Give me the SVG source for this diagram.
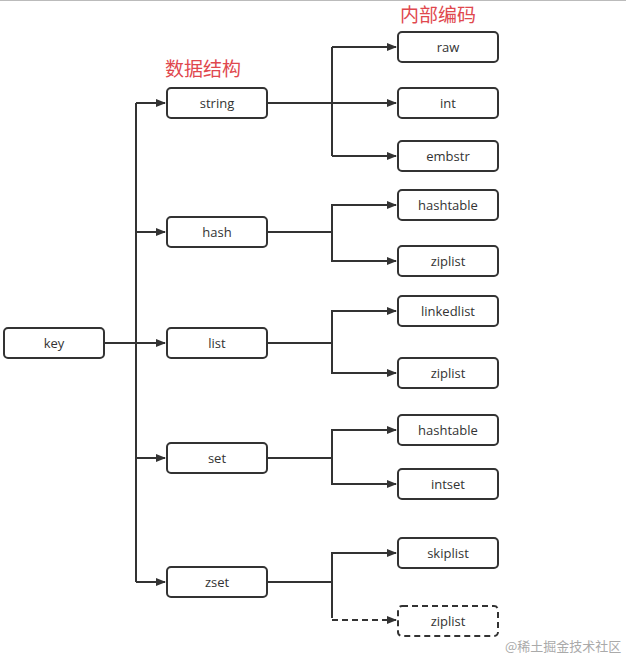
<svg xmlns="http://www.w3.org/2000/svg" width="626" height="656" viewBox="0 0 626 656">
<style>
.n rect{fill:#fff;stroke:#333;stroke-width:2}
.n text,.t{font-family:"Open Sans","Liberation Sans",sans-serif;font-size:13px;fill:#333;text-anchor:middle;dominant-baseline:central}
.c path{fill:none;stroke:#333;stroke-width:2}
.h{font-family:"Noto Sans CJK SC",sans-serif;font-size:19px;fill:#e0484e}
.d rect{stroke-dasharray:6 4}
</style>
<defs><marker id="a" markerWidth="10" markerHeight="8" refX="9" refY="4" orient="auto" markerUnits="userSpaceOnUse"><path d="M0,0L10,4L0,8z" fill="#333"/></marker></defs>
<rect width="626" height="656" fill="#fff"/>
<line x1="0" y1="0.5" x2="626" y2="0.5" stroke="#bbb"/>
<text class="h" x="400" y="22">内部编码</text>
<text class="h" x="165" y="76">数据结构</text>
<g class="c">
<path d="M104,343H136" />
<path d="M136,103V582"/>
<path d="M136,103H165" marker-end="url(#a)"/>
<path d="M136,232H165" marker-end="url(#a)"/>
<path d="M136,343H165" marker-end="url(#a)"/>
<path d="M136,458H165" marker-end="url(#a)"/>
<path d="M136,582H165" marker-end="url(#a)"/>
<path d="M267,103H396" marker-end="url(#a)"/>
<path d="M332,47V156"/>
<path d="M332,47H396" marker-end="url(#a)"/>
<path d="M332,156H396" marker-end="url(#a)"/>
<path d="M267,232H332V205H396" marker-end="url(#a)"/>
<path d="M332,232V261H396" marker-end="url(#a)"/>
<path d="M267,343H332V311H396" marker-end="url(#a)"/>
<path d="M332,343V373H396" marker-end="url(#a)"/>
<path d="M267,458H332V430H396" marker-end="url(#a)"/>
<path d="M332,458V484H396" marker-end="url(#a)"/>
<path d="M267,582H332V553H396" marker-end="url(#a)"/>
<path d="M332,582V618"/>
<path d="M332,620H396" stroke-dasharray="6 4" marker-end="url(#a)"/>
</g>
<g id="key" class="n"><rect x="4" y="328" width="100" height="30" rx="4"/><text x="54" y="343">key</text></g>
<g id="string" class="n"><rect x="167" y="88" width="100" height="30" rx="4"/><text x="217" y="103">string</text></g>
<g id="hash" class="n"><rect x="167" y="217" width="100" height="30" rx="4"/><text x="217" y="232">hash</text></g>
<g id="list" class="n"><rect x="167" y="328" width="100" height="30" rx="4"/><text x="217" y="343">list</text></g>
<g id="set" class="n"><rect x="167" y="443" width="100" height="30" rx="4"/><text x="217" y="458">set</text></g>
<g id="zset" class="n"><rect x="167" y="567" width="100" height="30" rx="4"/><text x="217" y="582">zset</text></g>
<g id="raw" class="n"><rect x="398" y="32" width="100" height="30" rx="4"/><text x="448" y="47">raw</text></g>
<g id="int" class="n"><rect x="398" y="88" width="100" height="30" rx="4"/><text x="448" y="103">int</text></g>
<g id="embstr" class="n"><rect x="398" y="141" width="100" height="30" rx="4"/><text x="448" y="156">embstr</text></g>
<g id="hashtable1" class="n"><rect x="398" y="190" width="100" height="30" rx="4"/><text x="448" y="205">hashtable</text></g>
<g id="ziplist1" class="n"><rect x="398" y="246" width="100" height="30" rx="4"/><text x="448" y="261">ziplist</text></g>
<g id="linkedlist" class="n"><rect x="398" y="296" width="100" height="30" rx="4"/><text x="448" y="311">linkedlist</text></g>
<g id="ziplist2" class="n"><rect x="398" y="358" width="100" height="30" rx="4"/><text x="448" y="373">ziplist</text></g>
<g id="hashtable2" class="n"><rect x="398" y="415" width="100" height="30" rx="4"/><text x="448" y="430">hashtable</text></g>
<g id="intset" class="n"><rect x="398" y="469" width="100" height="30" rx="4"/><text x="448" y="484">intset</text></g>
<g id="skiplist" class="n"><rect x="398" y="538" width="100" height="30" rx="4"/><text x="448" y="553">skiplist</text></g>
<g id="ziplist3" class="n d"><rect x="398" y="606" width="100" height="30" rx="4"/><text x="448" y="621">ziplist</text></g>
<text x="505" y="645" style="font-family:'Noto Sans CJK SC',sans-serif;font-size:13px;fill:#aaa;dominant-baseline:central">@稀土掘金技术社区</text>
</svg>
